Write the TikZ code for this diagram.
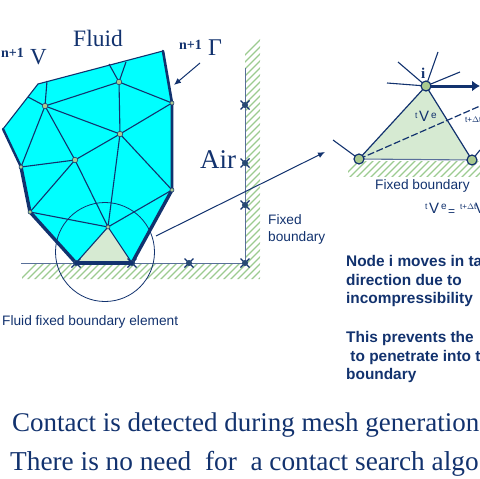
\documentclass[tikz,border=0pt]{standalone}
\usepackage{fontspec}
\setmainfont{Liberation Serif}
\setsansfont{Liberation Sans}
\usetikzlibrary{arrows.meta}
\definecolor{navy}{HTML}{12326E}
\definecolor{hatchc}{HTML}{9CCB90}
\definecolor{pale}{HTML}{D6EAD2}
\definecolor{nodec}{HTML}{A9C98F}
\definecolor{fluidc}{HTML}{00FFFF}
\tikzset{
  x=1pt,y=-1pt,
  mesh/.style={draw=navy,line width=1.1pt},
  wall/.style={draw=navy,line width=3.4pt,line cap=round,line join=round},
  gnode/.style={circle,draw=navy,fill=nodec,line width=0.5pt,inner sep=0pt,minimum size=5.5pt},
  bignode/.style={circle,draw=navy,fill=nodec,line width=1.2pt,inner sep=0pt,minimum size=10pt},
  cross/.style={draw=navy,line width=1.2pt},
  hatchl/.style={draw=hatchc,line width=1.1pt},
  ser/.style={text=navy,font=\rmfamily,inner sep=0pt,anchor=base west},
  san/.style={text=navy,font=\sffamily,inner sep=0pt,anchor=base west},
  bsan/.style={text=navy,font=\sffamily\bfseries\fontsize{15.4}{18}\selectfont,inner sep=0pt,anchor=base west},
}
\newcommand{\xmark}[1]{%
  \draw[cross] (#1)++(-4.5,-4.5) -- ++(9,9) (#1)++(4.5,-4.5) -- ++(-9,9);
  \fill[navy!85!hatchc] (#1) circle (3pt);}
\begin{document}
\begin{tikzpicture}
\useasboundingbox (0,0) rectangle (480,479);
\clip (0,0) rectangle (480,479);
% hatched ground and wall
\begin{scope}
  \clip (22,264) rectangle (260,279) (245,38) rectangle (260,264);
  \foreach \i in {0,7,...,560} { \draw[hatchl] (\i,300) -- ++(280,-280) ; }
\end{scope}
% points
\coordinate (p1) at (163,51);
\coordinate (p2) at (38,84);
\coordinate (p3) at (3,129);
\coordinate (p4) at (21,167);
\coordinate (p5) at (30,212);
\coordinate (p6) at (76,263);
\coordinate (p7) at (132,263);
\coordinate (p8) at (172,190);
\coordinate (p9) at (172,103);
\coordinate (A) at (45,106);
\coordinate (B) at (119,82);
\coordinate (C) at (120,134);
\coordinate (D) at (75,160);
\coordinate (E) at (108,227);
\coordinate (t1) at (47,81);
\coordinate (t2) at (28,97);
\coordinate (t3) at (109,64);
\coordinate (t4) at (126,62);
% fluid
\fill[fluidc] (p1)--(p2)--(p3)--(p4)--(p5)--(p6)--(p7)--(p8)--(p9)--cycle;
\fill[pale] (E)--(p6)--(p7)--cycle;
% mesh
\draw[mesh] (t1)--(A) (t2)--(A) (t3)--(B) (t4)--(B) (A)--(B) (B)--(p9) (B)--(C) (A)--(C) (C)--(p9) (C)--(D) (C)--(p8) (A)--(D) (A)--(p4) (D)--(p4) (D)--(p5) (D)--(E) (C)--(E) (E)--(p8) (E)--(p5) (E)--(p6) (E)--(p7);
\draw[mesh] (p1)--(p2)--(p3);
\draw[wall,line width=2.4pt] (p3)--(p4);
\draw[wall] (p4)--(p5)--(p6);
\draw[wall] (p7)--(p8);
\draw[wall,line width=2.6pt] (p8)--(p9)--(p1);
% walls
\draw[draw=navy!70!white,line width=0.9pt] (21,263)--(245,263)--(245,68);
% circle
\node[draw=navy,line width=0.8pt,circle,minimum size=99pt,inner sep=0pt] (zoomc) at (105,252) {};
% nodes
\foreach \n in {A,B,C,D} \node[gnode] at (\n) {};
\node[gnode,minimum size=4pt] at (E) {};
\node[gnode,minimum size=4pt] at (p5) {};
\node[gnode,minimum size=4pt] at (p8) {};
\node[gnode,minimum size=4pt] at (p9) {};
\node[gnode,minimum size=4pt] at (p4) {};
% crosses
\coordinate (x1) at (245,105);
\coordinate (x2) at (245,163);
\coordinate (x3) at (245,205);
\coordinate (x4) at (245,263);
\coordinate (x5) at (189,263);
\foreach \c in {x1,x2,x3,x4,x5,p6,p7} {\xmark{\c}}
\draw[wall] (p6)--(p7);
% arrows
\coordinate (g1) at (200,63);
\coordinate (g2) at (174,85);
\draw[navy,line width=1pt,-{Latex[length=7pt,width=6pt]}] (g1)--(g2);
\coordinate (a1) at (156,236);
\coordinate (a2) at (325,152);
\draw[navy,line width=1pt,-{Latex[length=7pt,width=6pt]}] (a1)--(a2);
% labels left
\node[ser,font=\rmfamily\bfseries\fontsize{14}{16}\selectfont] (l1) at (1,57) {n+1};
\node[ser,font=\rmfamily\fontsize{23}{27}\selectfont] (l2) at (30,64) {V};
\node[ser,font=\rmfamily\fontsize{23.5}{28}\selectfont] (l3) at (73,46) {Fluid};
\node[ser,font=\rmfamily\bfseries\fontsize{14}{16}\selectfont] (l4) at (179,49) {n+1};
\node[ser,font=\rmfamily\fontsize{24}{28}\selectfont] (l5) at (208,56) {Γ};
\node[ser,font=\rmfamily\fontsize{27}{32}\selectfont] (l6) at (200,168) {Air};
\node[san,font=\sffamily\fontsize{13.7}{17}\selectfont,align=left,anchor=north west] (l7) at (268,214) {Fixed\\boundary};
\node[san,font=\sffamily\fontsize{13.7}{16}\selectfont] (l8) at (2,325) {Fluid fixed boundary element};
% right detail
\begin{scope}
  \clip (348,161) rectangle (480,176);
  \foreach \i in {340,347,...,500} { \draw[hatchl] (\i,180) -- ++(25,-25); }
\end{scope}
\coordinate (i) at (426,86);
\coordinate (L) at (359,159);
\coordinate (R) at (472,160);
\fill[pale] (i)--(L)--(R)--cycle;
\coordinate (s1) at (387,83);
\coordinate (s2) at (398,62);
\coordinate (s3) at (438,52);
\coordinate (s4) at (460,72);
\coordinate (s5) at (333,140);
\coordinate (s6) at (480,150);
\coordinate (s7) at (480,106);
\coordinate (s8) at (480,86);
\draw[mesh] (i)--(s1) (i)--(s2) (i)--(s3) (i)--(s4) (L)--(s5) (R)--(s6);
\draw[navy,line width=1.2pt] (i)--(L) (i)--(R);
\draw[navy!70!white,line width=1.1pt] (L)--(R);
\draw[navy,line width=1.2pt,dash pattern=on 7pt off 2.5pt] (L)--(s7);
\draw[navy,line width=3pt,-{Latex[length=8pt,width=11pt]}] (i)--(s8);
\node[bignode] at (i) {};
\node[bignode] at (L) {};
\node[bignode] at (R) {};
\node[ser,font=\rmfamily\bfseries\fontsize{15}{17}\selectfont] (il) at (421,78) {i};
\node[san,font=\sffamily\fontsize{8.5}{9}\selectfont] (t1l) at (415,118) {t};
\node[san,font=\sffamily\fontsize{15}{16}\selectfont] (t2l) at (419,121) {V};
\node[san,font=\sffamily\fontsize{10}{11}\selectfont] (t3l) at (431,118) {e};
\node[san,font=\sffamily\fontsize{8}{9}\selectfont] (t4l) at (465,122) {t+$\Delta$t};
\node[san,font=\sffamily\fontsize{13.7}{16}\selectfont] (fb) at (375,189) {Fixed boundary};
\node[san,font=\sffamily\fontsize{8.5}{9}\selectfont] (f1) at (425,209) {t};
\node[san,font=\sffamily\fontsize{15}{16}\selectfont] (f2) at (429,213) {V};
\node[san,font=\sffamily\fontsize{10}{11}\selectfont] (f3) at (441,209) {e};
\node[san,font=\sffamily\fontsize{12}{13}\selectfont] (f4) at (448,215) {=};
\node[san,font=\sffamily\fontsize{8}{9}\selectfont] (f5) at (460,209) {t+$\Delta$t};
\node[san,font=\sffamily\fontsize{15}{16}\selectfont] (f6) at (475,213) {V};
\node[bsan] (n1) at (346,266) {Node i moves in ta};
\node[bsan] (n2) at (346,285) {direction due to};
\node[bsan] (n3) at (346,303) {incompressibility};
\node[bsan] (n4) at (346,342) {This prevents the};
\node[bsan] (n5) at (346,361) {\ to penetrate into t};
\node[bsan] (n6) at (346,379) {boundary};
\node[ser,font=\rmfamily\fontsize{27}{32}\selectfont] (b1) at (12,431) {Contact is detected during mesh generation};
\node[ser,font=\rmfamily\fontsize{27.3}{32}\selectfont] (b2) at (10,470) {There is no need\ \ for\ \ a contact search algo};
\end{tikzpicture}
\end{document}
